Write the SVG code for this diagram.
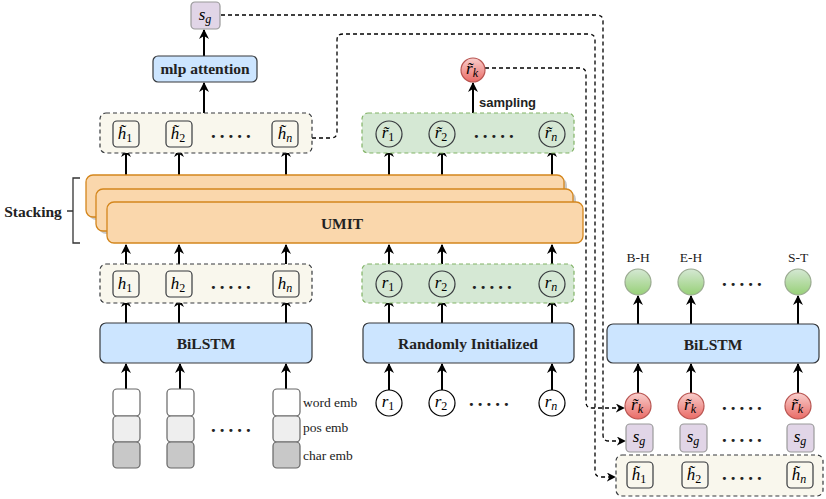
<svg xmlns="http://www.w3.org/2000/svg" width="826" height="499" viewBox="0 0 826 499">
<defs>
<marker id="ah" viewBox="0 0 10 10" refX="9" refY="5" markerWidth="10" markerHeight="10" markerUnits="userSpaceOnUse" orient="auto"><path d="M0,0 L10,5 L0,10 L3,5 Z" fill="#000"/></marker>
<marker id="ahd" viewBox="0 0 10 10" refX="9" refY="5" markerWidth="9" markerHeight="9" markerUnits="userSpaceOnUse" orient="auto"><path d="M0,0 L10,5 L0,10 L3,5 Z" fill="#000"/></marker>
<linearGradient id="red" x1="0" y1="0" x2="0" y2="1"><stop offset="0" stop-color="#f8cecc"/><stop offset="1" stop-color="#ea6b66"/></linearGradient>
<linearGradient id="green" x1="0" y1="0" x2="0" y2="1"><stop offset="0" stop-color="#d5e8d4"/><stop offset="1" stop-color="#97d077"/></linearGradient>
</defs>
<style>
.math{font-family:"Liberation Serif","DejaVu Serif",serif;font-style:italic;font-size:17px;text-anchor:middle;fill:#000}
.sub{font-size:12px;font-style:normal}
.subi{font-size:12px}
.bold{font-family:"Liberation Serif","DejaVu Serif",serif;font-weight:bold;font-size:15.5px;text-anchor:middle;fill:#222}
.lbl{font-family:"Liberation Serif","DejaVu Serif",serif;font-size:13.5px;fill:#222}
.dots{font-family:"Liberation Serif",serif;font-weight:bold;font-size:19px;letter-spacing:4px;fill:#222}
.grpbeige{fill:#f9f7ed;stroke:#36393d;stroke-dasharray:4 3;stroke-width:1.2}
.grpgreen{fill:#d5e8d4;stroke:#82b366;stroke-dasharray:4 3;stroke-width:1.2}
.box{fill:none;stroke:#36393d;stroke-width:1.2}
.circ{fill:none;stroke:#36393d;stroke-width:1.2}
.blue{fill:#cce5ff;stroke:#36393d;stroke-width:1.2}
.sg{fill:#e1d5e7;stroke:#9a9a9a;stroke-width:1.2}
.redc{fill:url(#red);stroke:#b85450;stroke-width:1.2}
.greenc{fill:url(#green);stroke:#9aaa90;stroke-width:1.2}
.umit{fill:#fad7ac;stroke:#d4861c;stroke-width:1.3}
.shadow{fill:#c8c8c8}
.arr{stroke:#000;stroke-width:2;fill:none;marker-end:url(#ah)}
.dash{stroke:#000;stroke-width:1.3;fill:none;stroke-dasharray:4 3;marker-end:url(#ahd)}
</style>

<g id="connectors">
<line class="arr" x1="204" y1="56" x2="204" y2="30"/>
<line class="arr" x1="204" y1="113" x2="204" y2="83"/>
<line class="arr" x1="473" y1="113" x2="473" y2="83"/>
<line class="arr" x1="126" y1="175" x2="126" y2="148"/>
<line class="arr" x1="179" y1="175" x2="179" y2="148"/>
<line class="arr" x1="286" y1="175" x2="286" y2="148"/>
<line class="arr" x1="389" y1="175" x2="389" y2="148"/>
<line class="arr" x1="442" y1="175" x2="442" y2="148"/>
<line class="arr" x1="552" y1="175" x2="552" y2="148"/>
<line class="arr" x1="126" y1="271" x2="126" y2="245"/>
<line class="arr" x1="179" y1="271" x2="179" y2="245"/>
<line class="arr" x1="286" y1="271" x2="286" y2="245"/>
<line class="arr" x1="389" y1="271" x2="389" y2="245"/>
<line class="arr" x1="442" y1="271" x2="442" y2="245"/>
<line class="arr" x1="552" y1="271" x2="552" y2="245"/>
<line class="arr" x1="126" y1="323" x2="126" y2="298"/>
<line class="arr" x1="179" y1="323" x2="179" y2="298"/>
<line class="arr" x1="286" y1="323" x2="286" y2="298"/>
<line class="arr" x1="389" y1="323" x2="389" y2="298"/>
<line class="arr" x1="442" y1="323" x2="442" y2="298"/>
<line class="arr" x1="552" y1="323" x2="552" y2="298"/>
<line class="arr" x1="126" y1="389" x2="126" y2="364"/>
<line class="arr" x1="180" y1="389" x2="180" y2="364"/>
<line class="arr" x1="286" y1="389" x2="286" y2="364"/>
<line class="arr" x1="389" y1="390" x2="389" y2="364"/>
<line class="arr" x1="442" y1="390" x2="442" y2="364"/>
<line class="arr" x1="552" y1="390" x2="552" y2="364"/>
<line class="arr" x1="638" y1="324" x2="638" y2="296"/>
<line class="arr" x1="691" y1="324" x2="691" y2="296"/>
<line class="arr" x1="798" y1="324" x2="798" y2="296"/>
<line class="arr" x1="638" y1="393" x2="638" y2="364"/>
<line class="arr" x1="691" y1="393" x2="691" y2="364"/>
<line class="arr" x1="798" y1="393" x2="798" y2="364"/>
<path class="dash" d="M221,15 H597 Q603,15 603,21 V435 Q603,441 609,441 H625"/>
<path class="dash" d="M312,138 H331 Q337,138 337,132 V40 Q337,34 343,34 H589 Q595,34 595,40 V471 Q595,477 601,477 H615"/>
<path class="dash" d="M485,68 H580 Q586,68 586,74 V402 Q586,408 592,408 H624"/>
</g>

<g id="sg-top">
<rect class="sg" x="191" y="2" width="29" height="27" rx="4"/>
<text class="math" x="205" y="20">s<tspan class="subi" dy="3">g</tspan></text>
</g>

<g id="mlp-attention">
<rect class="blue" x="153" y="56" width="104" height="26" rx="5"/>
<text class="bold" x="205" y="74">mlp attention</text>
</g>

<g id="rk-top">
<circle class="redc" cx="473" cy="70" r="12"/>
<text class="math" x="472" y="74">r̃<tspan class="subi" dy="3">k</tspan></text>
<text x="479" y="107" font-family="Liberation Sans, Arial, sans-serif" font-weight="bold" font-size="13" fill="#222">sampling</text>
</g>

<g id="htilde-group">
<rect class="grpbeige" x="100" y="113" width="212" height="40" rx="6"/>
<rect class="box" x="113" y="121" width="26" height="26" rx="4"/>
<text class="math" x="125" y="139">h̃<tspan class="sub" dy="3">1</tspan></text>
<rect class="box" x="166" y="121" width="26" height="26" rx="4"/>
<text class="math" x="178" y="139">h̃<tspan class="sub" dy="3">2</tspan></text>
<text class="dots" x="211" y="138">.....</text>
<rect class="box" x="272" y="121" width="26" height="26" rx="4"/>
<text class="math" x="285" y="139">h̃<tspan class="subi" dy="3">n</tspan></text>
</g>

<g id="rtilde-group">
<rect class="grpgreen" x="362" y="113" width="212" height="40" rx="6"/>
<circle class="circ" cx="389" cy="134" r="13"/>
<text class="math" x="388" y="138">r̃<tspan class="sub" dy="3">1</tspan></text>
<circle class="circ" cx="442" cy="134" r="13"/>
<text class="math" x="441" y="138">r̃<tspan class="sub" dy="3">2</tspan></text>
<text class="dots" x="474" y="138">.....</text>
<circle class="circ" cx="552" cy="134" r="13"/>
<text class="math" x="551" y="138">r̃<tspan class="subi" dy="3">n</tspan></text>
</g>

<g id="umit">
<rect class="shadow" x="89" y="178" width="478" height="42" rx="7"/>
<rect class="umit" x="86" y="175" width="478" height="42" rx="7"/>
<rect class="shadow" x="99" y="192" width="477" height="42" rx="7"/>
<rect class="umit" x="96" y="189" width="477" height="42" rx="7"/>
<rect class="umit" x="107" y="202" width="476" height="41" rx="7"/>
<text class="bold" x="342" y="229" font-size="18">UMIT</text>
</g>

<g id="stacking">
<text class="bold" x="33" y="217">Stacking</text>
<path d="M80,178 H73 V243 H80 M67,211 H73" fill="none" stroke="#333" stroke-width="1.3"/>
</g>

<g id="h-group">
<rect class="grpbeige" x="100" y="264" width="212" height="39" rx="6"/>
<rect class="box" x="113" y="271" width="26" height="26" rx="4"/>
<text class="math" x="125" y="289">h<tspan class="sub" dy="3">1</tspan></text>
<rect class="box" x="166" y="271" width="26" height="26" rx="4"/>
<text class="math" x="178" y="289">h<tspan class="sub" dy="3">2</tspan></text>
<text class="dots" x="211" y="289">.....</text>
<rect class="box" x="273" y="271" width="26" height="26" rx="4"/>
<text class="math" x="285" y="289">h<tspan class="subi" dy="3">n</tspan></text>
</g>

<g id="r-group">
<rect class="grpgreen" x="362" y="264" width="212" height="39" rx="6"/>
<circle class="circ" cx="389" cy="284" r="13"/>
<text class="math" x="388" y="288">r<tspan class="sub" dy="3">1</tspan></text>
<circle class="circ" cx="442" cy="284" r="13"/>
<text class="math" x="441" y="288">r<tspan class="sub" dy="3">2</tspan></text>
<text class="dots" x="472" y="289">.....</text>
<circle class="circ" cx="552" cy="284" r="13"/>
<text class="math" x="551" y="288">r<tspan class="subi" dy="3">n</tspan></text>
</g>

<g id="bilstm-left">
<rect class="blue" x="100" y="323" width="212" height="40" rx="6"/>
<text class="bold" x="206" y="349">BiLSTM</text>
</g>

<g id="randomly-initialized">
<rect class="blue" x="363" y="323" width="211" height="40" rx="6"/>
<text class="bold" x="468" y="349">Randomly Initialized</text>
</g>

<g id="embeddings">
<rect x="113" y="389" width="27" height="27" rx="4" fill="#ffffff" stroke="#666" stroke-width="1.2"/>
<rect x="113" y="416" width="27" height="26" rx="4" fill="#eeeeee" stroke="#666" stroke-width="1.2"/>
<rect x="113" y="442" width="27" height="26" rx="4" fill="#c8c8c8" stroke="#666" stroke-width="1.2"/>
<rect x="167" y="389" width="27" height="27" rx="4" fill="#ffffff" stroke="#666" stroke-width="1.2"/>
<rect x="167" y="416" width="27" height="26" rx="4" fill="#eeeeee" stroke="#666" stroke-width="1.2"/>
<rect x="167" y="442" width="27" height="26" rx="4" fill="#c8c8c8" stroke="#666" stroke-width="1.2"/>
<text class="dots" x="211" y="432">.....</text>
<rect x="273" y="389" width="27" height="27" rx="4" fill="#ffffff" stroke="#666" stroke-width="1.2"/>
<rect x="273" y="416" width="27" height="26" rx="4" fill="#eeeeee" stroke="#666" stroke-width="1.2"/>
<rect x="273" y="442" width="27" height="26" rx="4" fill="#c8c8c8" stroke="#666" stroke-width="1.2"/>
<text class="lbl" x="303" y="407">word emb</text>
<text class="lbl" x="303" y="432">pos emb</text>
<text class="lbl" x="303" y="460">char emb</text>
</g>

<g id="r-inputs">
<circle cx="389" cy="403" r="13" fill="#fff" stroke="#000" stroke-width="1.2"/>
<text class="math" x="388" y="407">r<tspan class="sub" dy="3">1</tspan></text>
<circle cx="442" cy="403" r="13" fill="#fff" stroke="#000" stroke-width="1.2"/>
<text class="math" x="441" y="407">r<tspan class="sub" dy="3">2</tspan></text>
<text class="dots" x="469" y="406">.....</text>
<circle cx="552" cy="403" r="13" fill="#fff" stroke="#000" stroke-width="1.2"/>
<text class="math" x="551" y="407">r<tspan class="subi" dy="3">n</tspan></text>
</g>

<g id="outputs">
<text class="lbl" x="638" y="262" text-anchor="middle">B-H</text>
<text class="lbl" x="691" y="262" text-anchor="middle">E-H</text>
<text class="lbl" x="798" y="262" text-anchor="middle">S-T</text>
<circle class="greenc" cx="638" cy="282" r="13"/>
<circle class="greenc" cx="691" cy="282" r="13"/>
<text class="dots" x="722" y="286">.....</text>
<circle class="greenc" cx="798" cy="282" r="13"/>
</g>

<g id="bilstm-right">
<rect class="blue" x="607" y="324" width="212" height="39" rx="6"/>
<text class="bold" x="713" y="350">BiLSTM</text>
</g>

<g id="rk-row">
<circle class="redc" cx="638" cy="406" r="13"/>
<text class="math" x="637" y="410">r̃<tspan class="subi" dy="3">k</tspan></text>
<circle class="redc" cx="691" cy="406" r="13"/>
<text class="math" x="690" y="410">r̃<tspan class="subi" dy="3">k</tspan></text>
<text class="dots" x="722" y="410">.....</text>
<circle class="redc" cx="798" cy="406" r="13"/>
<text class="math" x="797" y="410">r̃<tspan class="subi" dy="3">k</tspan></text>
</g>

<g id="sg-row">
<rect class="sg" x="626" y="424" width="27" height="28" rx="4"/>
<text class="math" x="639" y="442">s<tspan class="subi" dy="3">g</tspan></text>
<rect class="sg" x="680" y="424" width="27" height="28" rx="4"/>
<text class="math" x="693" y="442">s<tspan class="subi" dy="3">g</tspan></text>
<text class="dots" x="722" y="442">.....</text>
<rect class="sg" x="787" y="424" width="27" height="28" rx="4"/>
<text class="math" x="800" y="442">s<tspan class="subi" dy="3">g</tspan></text>
</g>

<g id="htilde-row">
<rect class="grpbeige" x="616" y="455" width="207" height="41" rx="6"/>
<rect class="box" x="627" y="462" width="26" height="26" rx="4"/>
<text class="math" x="639" y="480">h̃<tspan class="sub" dy="3">1</tspan></text>
<rect class="box" x="682" y="462" width="26" height="26" rx="4"/>
<text class="math" x="694" y="480">h̃<tspan class="sub" dy="3">2</tspan></text>
<text class="dots" x="722" y="480">.....</text>
<rect class="box" x="787" y="462" width="26" height="26" rx="4"/>
<text class="math" x="799" y="480">h̃<tspan class="subi" dy="3">n</tspan></text>
</g>
</svg>
